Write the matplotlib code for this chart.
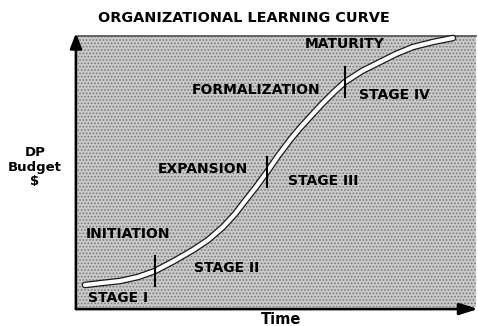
import matplotlib
matplotlib.use('Agg')
import matplotlib.pyplot as plt
from matplotlib.patches import Rectangle

# curve (time, budget) in axis units
time = [9, 26, 44, 62, 79, 98, 117, 132, 147, 159, 169, 180, 191, 202,
        214, 224, 234, 246, 258, 269, 286, 304, 320, 337, 357, 377]
budget = [24, 26, 28, 32, 38, 48, 59, 69, 82, 95, 108, 122, 137, 153,
          169, 181, 192, 205, 217, 227, 238, 247, 255, 262, 267, 271]

# stage boundaries on the curve
stage_x = [79, 191, 269]
stage_y = [38, 137, 227]

# labels: (text, x, y)
phases = [('INITIATION', 52, 75), ('EXPANSION', 127, 140),
          ('FORMALIZATION', 180, 219), ('MATURITY', 269, 265)]
stages = [('STAGE I', 42, 11), ('STAGE II', 151, 41), ('STAGE III', 247, 128),
          ('STAGE IV', 318, 214)]

plt.rcParams['font.family'] = ['DejaVu Sans']
plt.rcParams['hatch.linewidth'] = 0.8

fig = plt.figure(figsize=(4.78, 3.26), dpi=100)
ax = fig.add_axes([76 / 478, 17 / 326, 402 / 478, 276 / 326])
ax.set_xlim(0, 402)
ax.set_ylim(0, 276)
ax.axis('off')

# stippled background
ax.add_patch(Rectangle((2, 2), 398, 272, facecolor='#cacaca', hatch='.....',
                       edgecolor='#7a7a7a', linewidth=0, zorder=0))
ax.plot([2, 400], [273, 273], color='#555555', lw=1.2, zorder=1)

# axes with arrow heads
ax.annotate('', xy=(0, 276), xytext=(0, 0),
            arrowprops=dict(arrowstyle='-|>,head_length=0.9,head_width=0.35',
                            lw=2, color='black', shrinkA=0, shrinkB=0))
ax.annotate('', xy=(402, 0), xytext=(0, 0),
            arrowprops=dict(arrowstyle='-|>,head_length=1.1,head_width=0.35',
                            lw=2, color='black', shrinkA=0, shrinkB=0))

# learning curve: white line with dark edge
ax.plot(time, budget, color='#1a1a1a', lw=4.8, solid_capstyle='round', zorder=3)
ax.plot(time, budget, color='white', lw=3.0, solid_capstyle='round', zorder=4)

for sx, sy in zip(stage_x, stage_y):
    ax.plot([sx, sx], [sy - 15, sy + 15], color='black', lw=1.5, zorder=5)

for txt, x, y in phases + stages:
    ax.text(x, y, txt, fontsize=10, fontweight='bold', ha='center',
            va='center', zorder=6)

fig.text(244 / 478, 1 - 18 / 326, 'ORGANIZATIONAL LEARNING CURVE',
         fontsize=10.4, fontweight='bold', ha='center', va='center')
fig.text(281 / 478, 1 - 319 / 326, 'Time', fontsize=10.5, fontweight='bold',
         ha='center', va='center')
fig.text(35 / 478, 1 - 167 / 326, 'DP\nBudget\n$', fontsize=9.5,
         fontweight='bold', ha='center', va='center', linespacing=1.15)

fig.savefig('out.png', dpi=100)
